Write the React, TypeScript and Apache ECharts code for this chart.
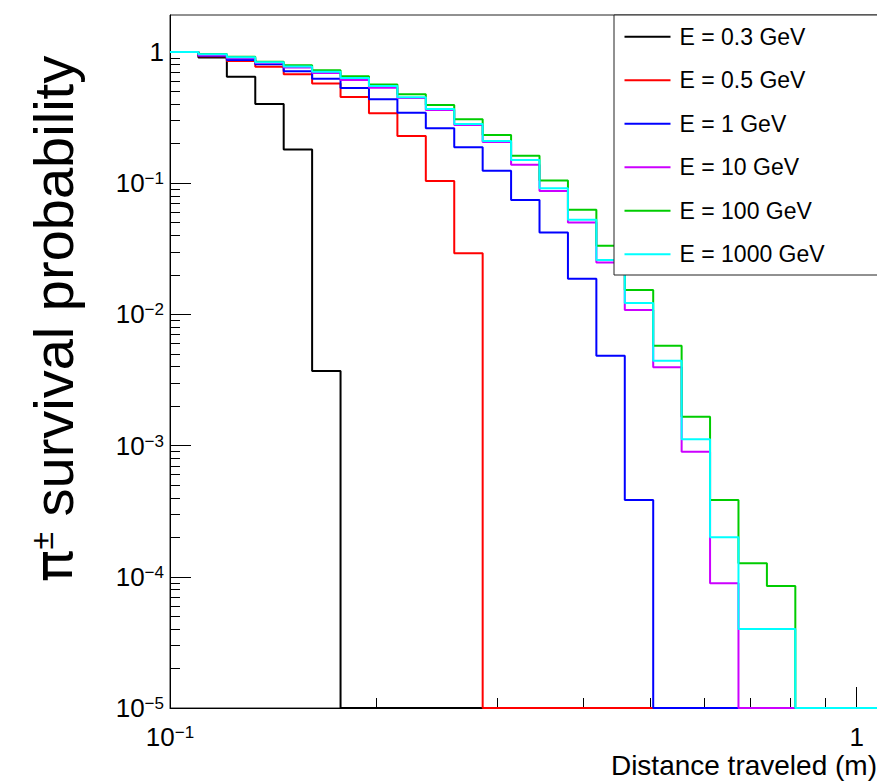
import React, { useEffect, useRef } from "react";
import * as echarts from "echarts";

// Log-spaced bin edges (factor 1.1) read from the step positions
const binEdges = [
  0.1, 0.11, 0.121, 0.1331, 0.14641, 0.161051, 0.177156, 0.194872, 0.214359,
  0.235795, 0.259374, 0.285312, 0.313843, 0.345227, 0.37975, 0.417725,
  0.459497, 0.505447, 0.555992, 0.611591, 0.67275, 0.740025, 0.814027,
  0.89543, 0.984973, 1.083471,
];

const seriesNames = [
  "E = 0.3 GeV",
  "E = 0.5 GeV",
  "E = 1 GeV",
  "E = 10 GeV",
  "E = 100 GeV",
  "E = 1000 GeV",
];
const seriesColors = ["#000000", "#ff0000", "#0000ff", "#cc00ff", "#00cc00", "#00ffff"];

const e03 = [1.0, 0.908, 0.648, 0.402, 0.181, 0.0037, 0, 0, 0, 0, 0, 0, 0, 0, 0, 0, 0, 0, 0, 0, 0, 0, 0, 0, 0];
const e05 = [1.0, 0.93, 0.854, 0.773, 0.677, 0.575, 0.454, 0.341, 0.229, 0.104, 0.0292, 0, 0, 0, 0, 0, 0, 0, 0, 0, 0, 0, 0, 0, 0];
const e1 = [1.0, 0.935, 0.869, 0.807, 0.714, 0.625, 0.532, 0.436, 0.345, 0.262, 0.188, 0.1245, 0.0745, 0.0421, 0.0187, 0.00484, 0.000385, 0, 0, 0, 0, 0, 0, 0, 0];
const e10 = [1.0, 0.945, 0.895, 0.824, 0.762, 0.692, 0.612, 0.534, 0.446, 0.361, 0.278, 0.206, 0.138, 0.0872, 0.0502, 0.0249, 0.0108, 0.00395, 0.000899, 0.0000892, 0, 0, 0, 0, 0];
const e100 = [1.0, 0.965, 0.921, 0.843, 0.793, 0.725, 0.653, 0.565, 0.477, 0.394, 0.307, 0.233, 0.162, 0.105, 0.0628, 0.0334, 0.01535, 0.00577, 0.00166, 0.000385, 0.000127, 0.0000851, 0, 0, 0];
const e1000 = [1.0, 0.96, 0.911, 0.836, 0.775, 0.706, 0.634, 0.551, 0.452, 0.368, 0.283, 0.21, 0.15, 0.0914, 0.0527, 0.026, 0.0122, 0.00444, 0.00112, 0.0002, 0.00004, 0.00004, 0, 0, 0];
const seriesValues = [e03, e05, e1, e10, e100, e1000];

const X_MIN = 0.1;
const X_MAX = 1.083471;
const Y_MIN = 1e-5;
const Y_MAX = 1.914;

const xMajor = [0.1, 1];
const xMinor = [0.2, 0.3, 0.4, 0.5, 0.6, 0.7, 0.8, 0.9];
const yMajor = [1e-5, 1e-4, 1e-3, 1e-2, 1e-1, 1];
const yMinor: number[] = [];
for (let e = -5; e < 0; e++) {
  for (let k = 2; k <= 9; k++) yMinor.push(Number((k * Math.pow(10, e)).toPrecision(3)));
}

const FONT = "'Liberation Sans', Arial, Helvetica, sans-serif";
const PI_FONT = "'DejaVu Sans', 'Liberation Sans', sans-serif";

const powLabel = (v: number) => {
  const e = Math.round(Math.log10(v));
  if (e === 0) return "1";
  return `10{s|${e < 0 ? "\u2212" : ""}${Math.abs(e)}}`;
};

const labelRich = {
  s: {
    fontSize: 17,
    lineHeight: 12,
    verticalAlign: "top",
    fontFamily: FONT,
    color: "#000",
  },
};

function buildOption(): any {
  const series = seriesValues.map((vals, i) => {
    const data: number[][] = vals.map((v, k) => [binEdges[k], v > 0 ? v : Y_MIN]);
    const last = vals[vals.length - 1];
    data.push([binEdges[vals.length], last > 0 ? last : Y_MIN]);
    return {
      name: seriesNames[i],
      type: "line",
      step: "end",
      data,
      symbol: "none",
      showSymbol: false,
      clip: false,
      color: seriesColors[i],
      lineStyle: { color: seriesColors[i], width: 2 },
      silent: true,
      z: 2 + i * 0.01,
    };
  });

  return {
    animation: false,
    backgroundColor: "#ffffff",
    textStyle: { fontFamily: FONT },
    grid: {
      left: 170,
      top: 15,
      width: 710.6,
      height: 693,
      show: true,
      borderColor: "#222",
      borderWidth: 1,
      backgroundColor: "transparent",
      containLabel: false,
      outerBoundsMode: "none",
    },
    xAxis: [
      {
        type: "log",
        min: X_MIN,
        max: X_MAX,
        position: "bottom",
        axisLine: { show: true, lineStyle: { color: "#000", width: 1 } },
        axisTick: {
          show: true,
          inside: true,
          length: 21,
          customValues: xMajor,
          lineStyle: { color: "#000", width: 1 },
        },
        axisLabel: {
          show: true,
          customValues: xMajor,
          formatter: powLabel,
          margin: 16,
          fontSize: 26,
          lineHeight: 26,
          color: "#000",
          fontFamily: FONT,
          rich: labelRich,
        },
        splitLine: { show: false },
        minorTick: { show: false },
      },
      {
        type: "log",
        min: X_MIN,
        max: X_MAX,
        position: "bottom",
        axisLine: { show: false },
        axisTick: {
          show: true,
          inside: true,
          length: 10,
          customValues: xMinor,
          lineStyle: { color: "#000", width: 1 },
        },
        axisLabel: { show: false },
        splitLine: { show: false },
      },
    ],
    yAxis: [
      {
        type: "log",
        min: Y_MIN,
        max: Y_MAX,
        position: "left",
        axisLine: { show: true, lineStyle: { color: "#000", width: 1 } },
        axisTick: {
          show: true,
          inside: true,
          length: 21,
          customValues: yMajor,
          lineStyle: { color: "#000", width: 1 },
        },
        axisLabel: {
          show: true,
          customValues: yMajor,
          formatter: powLabel,
          margin: 6,
          fontSize: 26,
          lineHeight: 26,
          color: "#000",
          fontFamily: FONT,
          rich: labelRich,
        },
        splitLine: { show: false },
        minorTick: { show: false },
      },
      {
        type: "log",
        min: Y_MIN,
        max: Y_MAX,
        position: "left",
        axisLine: { show: false },
        axisTick: {
          show: true,
          inside: true,
          length: 10,
          customValues: yMinor,
          lineStyle: { color: "#000", width: 1 },
        },
        axisLabel: { show: false },
        splitLine: { show: false },
      },
    ],
    legend: {
      show: true,
      orient: "vertical",
      align: "left",
      left: 614,
      top: 15,
      padding: [8.7, 90, 7.8, 10.5],
      itemGap: 17.5,
      itemWidth: 46,
      itemHeight: 2,
      icon: "rect",
      backgroundColor: "#ffffff",
      borderColor: "#222",
      borderWidth: 1,
      borderRadius: 0,
      selectedMode: false,
      data: seriesNames,
      textStyle: {
        fontSize: 23,
        lineHeight: 26,
        color: "#000",
        fontFamily: FONT,
        padding: [0, 0, 0, 4],
      },
    },
    graphic: [
      {
        type: "text",
        x: 53.6,
        y: 319,
        rotation: Math.PI / 2,
        style: {
          text: "{p|\u03c0}{s|\u00b1}{t| survival probability}",
          align: "center",
          verticalAlign: "middle",
          fill: "#000",
          fontFamily: FONT,
          fontSize: 56,
          rich: {
            p: { fontSize: 54, lineHeight: 56, fontFamily: PI_FONT, fill: "#000" },
            s: { fontSize: 32, lineHeight: 30, verticalAlign: "top", fontFamily: FONT, fill: "#000" },
            t: { fontSize: 56, lineHeight: 56, fontFamily: FONT, fill: "#000" },
          },
        },
        z: 10,
      },
      {
        type: "text",
        x: 877,
        y: 765.3,
        style: {
          text: "Distance traveled (m)",
          align: "right",
          verticalAlign: "middle",
          fill: "#000",
          fontFamily: FONT,
          fontSize: 28,
        },
        z: 10,
      },
    ],
    series,
  };
}

export default function App() {
  const ref = useRef<HTMLDivElement>(null);
  useEffect(() => {
    document.body.style.margin = "0";
    const chart = echarts.init(ref.current as HTMLDivElement, null, { renderer: "svg" });
    chart.setOption(buildOption());
    return () => chart.dispose();
  }, []);
  return <div ref={ref} style={{ width: 877, height: 781 }} />;
}
